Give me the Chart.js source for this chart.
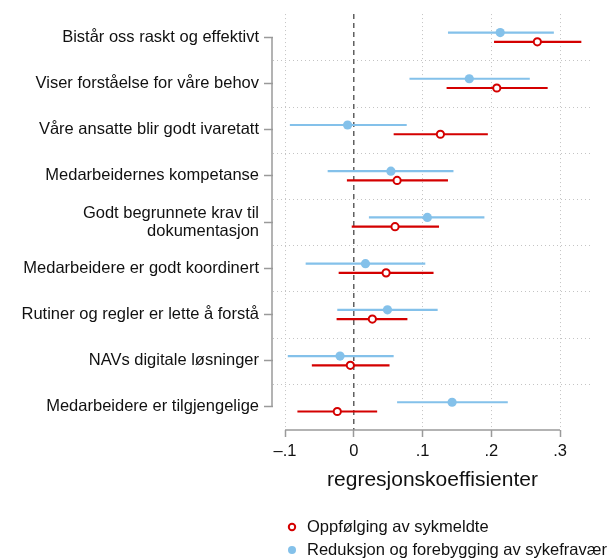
<!DOCTYPE html>
<html>
<head>
<meta charset="utf-8">
<script src="https://cdn.jsdelivr.net/npm/chart.js@4.4.1/dist/chart.umd.min.js"></script>
<style>
  html, body { margin: 0; padding: 0; background: #fff; overflow: hidden; }
  canvas { display: block; }
</style>
</head>
<body>
<canvas id="coefplot" width="613" height="559"></canvas>
<script>
// categories, top to bottom
var categories = [
    "Bistår oss raskt og effektivt",
    "Viser forståelse for våre behov",
    "Våre ansatte blir godt ivaretatt",
    "Medarbeidernes kompetanse",
    ["Godt begrunnete krav til", "dokumentasjon"],
    "Medarbeidere er godt koordinert",
    "Rutiner og regler er lette å forstå",
    "NAVs digitale løsninger",
    "Medarbeidere er tilgjengelige"
];

// Oppfølging av sykmeldte (red, hollow)
var oppfEstimate = [0.267, 0.208, 0.126, 0.063, 0.060, 0.047, 0.027, -0.005, -0.024];
var oppfLower    = [0.204, 0.135, 0.058, -0.010, -0.003, -0.022, -0.025, -0.061, -0.082];
var oppfUpper    = [0.331, 0.282, 0.195, 0.137, 0.124, 0.116, 0.078, 0.052, 0.034];

// Reduksjon og forebygging av sykefravær (blue, filled)
var redEstimate = [0.213, 0.168, -0.009, 0.054, 0.107, 0.017, 0.049, -0.020, 0.143];
var redLower    = [0.137, 0.081, -0.093, -0.038, 0.022, -0.070, -0.024, -0.096, 0.063];
var redUpper    = [0.291, 0.256, 0.077, 0.145, 0.190, 0.104, 0.122, 0.058, 0.224];

var seriesNames = ["Oppfølging av sykmeldte", "Reduksjon og forebygging av sykefravær"];

var xTicks = [-0.1, 0, 0.1, 0.2, 0.3];
var xTickLabels = ["\u2013.1", "0", ".1", ".2", ".3"];

var RED = "#d40000";
var BLUE = "#84c1ea";
var FONT = "'Liberation Sans', Arial, Helvetica, sans-serif";

function points(est, shift) {
    return est.map(function(v, i) { return { x: v, y: i + 1 + shift }; });
}
function segments(lo, hi, shift) {
    var out = [];
    lo.forEach(function(v, i) {
        out.push({ x: v, y: i + 1 + shift });
        out.push({ x: hi[i], y: i + 1 + shift });
        out.push({ x: null, y: null });
    });
    return out;
}

// separators, zero line, axis brackets, legend
var decorations = {
    id: 'decorations',
    beforeDatasetsDraw: function(chart) {
        var ctx = chart.ctx, x = chart.scales.x, y = chart.scales.y, a = chart.chartArea;
        ctx.save();
        ctx.strokeStyle = '#c4c4c4';
        ctx.lineWidth = 1;
        ctx.setLineDash([1, 3]);
        for (var i = 1; i < categories.length; i++) {
            var py = Math.round(y.getPixelForValue(i + 0.5)) + 0.5;
            ctx.beginPath();
            ctx.moveTo(a.left, py);
            ctx.lineTo(a.right, py);
            ctx.stroke();
        }
        var px0 = x.getPixelForValue(0);
        ctx.strokeStyle = '#555';
        ctx.lineWidth = 1.4;
        ctx.setLineDash([5, 4]);
        ctx.beginPath();
        ctx.moveTo(px0, a.top);
        ctx.lineTo(px0, a.bottom);
        ctx.stroke();
        ctx.restore();
    },
    afterDraw: function(chart) {
        var ctx = chart.ctx, x = chart.scales.x, y = chart.scales.y, a = chart.chartArea;
        ctx.save();
        ctx.strokeStyle = '#9a9a9a';
        ctx.lineWidth = 1.5;
        // x axis line between first and last tick
        ctx.beginPath();
        ctx.moveTo(x.getPixelForValue(xTicks[0]), a.bottom);
        ctx.lineTo(x.getPixelForValue(xTicks[xTicks.length - 1]), a.bottom);
        ctx.stroke();
        // y axis bracket
        ctx.beginPath();
        ctx.moveTo(a.left - 1, y.getPixelForValue(1));
        ctx.lineTo(a.left - 1, y.getPixelForValue(categories.length));
        ctx.stroke();

        // legend
        ctx.font = '16.5px ' + FONT;
        ctx.textBaseline = 'middle';
        ctx.textAlign = 'left';
        ctx.setLineDash([]);
        ctx.beginPath();
        ctx.arc(292, 527, 3.2, 0, Math.PI * 2);
        ctx.fillStyle = '#fff';
        ctx.fill();
        ctx.lineWidth = 2;
        ctx.strokeStyle = RED;
        ctx.stroke();
        ctx.beginPath();
        ctx.arc(292, 550, 4, 0, Math.PI * 2);
        ctx.fillStyle = BLUE;
        ctx.fill();
        ctx.fillStyle = '#111';
        ctx.fillText(seriesNames[0], 307, 527);
        ctx.fillText(seriesNames[1], 307, 550);
        ctx.restore();
    }
};

new Chart(document.getElementById('coefplot').getContext('2d'), {
    type: 'scatter',
    data: {
        datasets: [
            {
                label: seriesNames[1] + ' KI',
                type: 'line',
                data: segments(redLower, redUpper, -0.1),
                borderColor: BLUE,
                borderWidth: 2.2,
                pointRadius: 0,
                spanGaps: false,
                order: 4
            },
            {
                label: seriesNames[1],
                data: points(redEstimate, -0.1),
                backgroundColor: BLUE,
                borderWidth: 0,
                pointRadius: 4.6,
                order: 3
            },
            {
                label: seriesNames[0] + ' KI',
                type: 'line',
                data: segments(oppfLower, oppfUpper, 0.1),
                borderColor: RED,
                borderWidth: 2.2,
                pointRadius: 0,
                spanGaps: false,
                order: 2
            },
            {
                label: seriesNames[0],
                data: points(oppfEstimate, 0.1),
                backgroundColor: '#fff',
                borderColor: RED,
                borderWidth: 2,
                pointRadius: 3.6,
                order: 1
            }
        ]
    },
    options: {
        responsive: false,
        animation: false,
        layout: { padding: { top: 13, right: 21, left: 0, bottom: 0 } },
        plugins: {
            legend: { display: false },
            tooltip: { enabled: false }
        },
        scales: {
            x: {
                type: 'linear',
                min: -0.1175,
                max: 0.3465,
                afterBuildTicks: function(scale) {
                    scale.ticks = xTicks.map(function(v) { return { value: v }; });
                },
                afterFit: function(scale) { scale.height = 129; },
                border: { display: false, dash: [1, 3] },
                grid: {
                    color: function(c) { return c.tick && c.tick.value === 0 ? 'rgba(0,0,0,0)' : '#c4c4c4'; },
                    lineWidth: 1,
                    tickColor: '#9a9a9a',
                    tickLength: 7,
                    tickWidth: 1.5,
                    tickBorderDash: []
                },
                ticks: {
                    color: '#111',
                    padding: 5,
                    maxRotation: 0,
                    font: { family: FONT, size: 16.5 },
                    callback: function(v, i) { return xTickLabels[i]; }
                },
                title: {
                    display: true,
                    text: 'regresjonskoeffisienter',
                    color: '#111',
                    font: { family: FONT, size: 21 },
                    padding: { top: 0, bottom: 66 }
                }
            },
            y: {
                type: 'linear',
                reverse: true,
                min: 0.5,
                max: categories.length + 0.5,
                afterBuildTicks: function(scale) {
                    scale.ticks = categories.map(function(c, i) { return { value: i + 1 }; });
                },
                afterFit: function(scale) { scale.width = 273; },
                border: { display: false },
                grid: {
                    drawOnChartArea: false,
                    drawTicks: true,
                    tickLength: 9,
                    tickColor: '#9a9a9a',
                    tickWidth: 1.5
                },
                ticks: {
                    color: '#111',
                    padding: 5,
                    font: { family: FONT, size: 16.5, lineHeight: 1.1 },
                    callback: function(v, i) { return categories[i]; }
                }
            }
        }
    },
    plugins: [decorations]
});
</script>
</body>
</html>
